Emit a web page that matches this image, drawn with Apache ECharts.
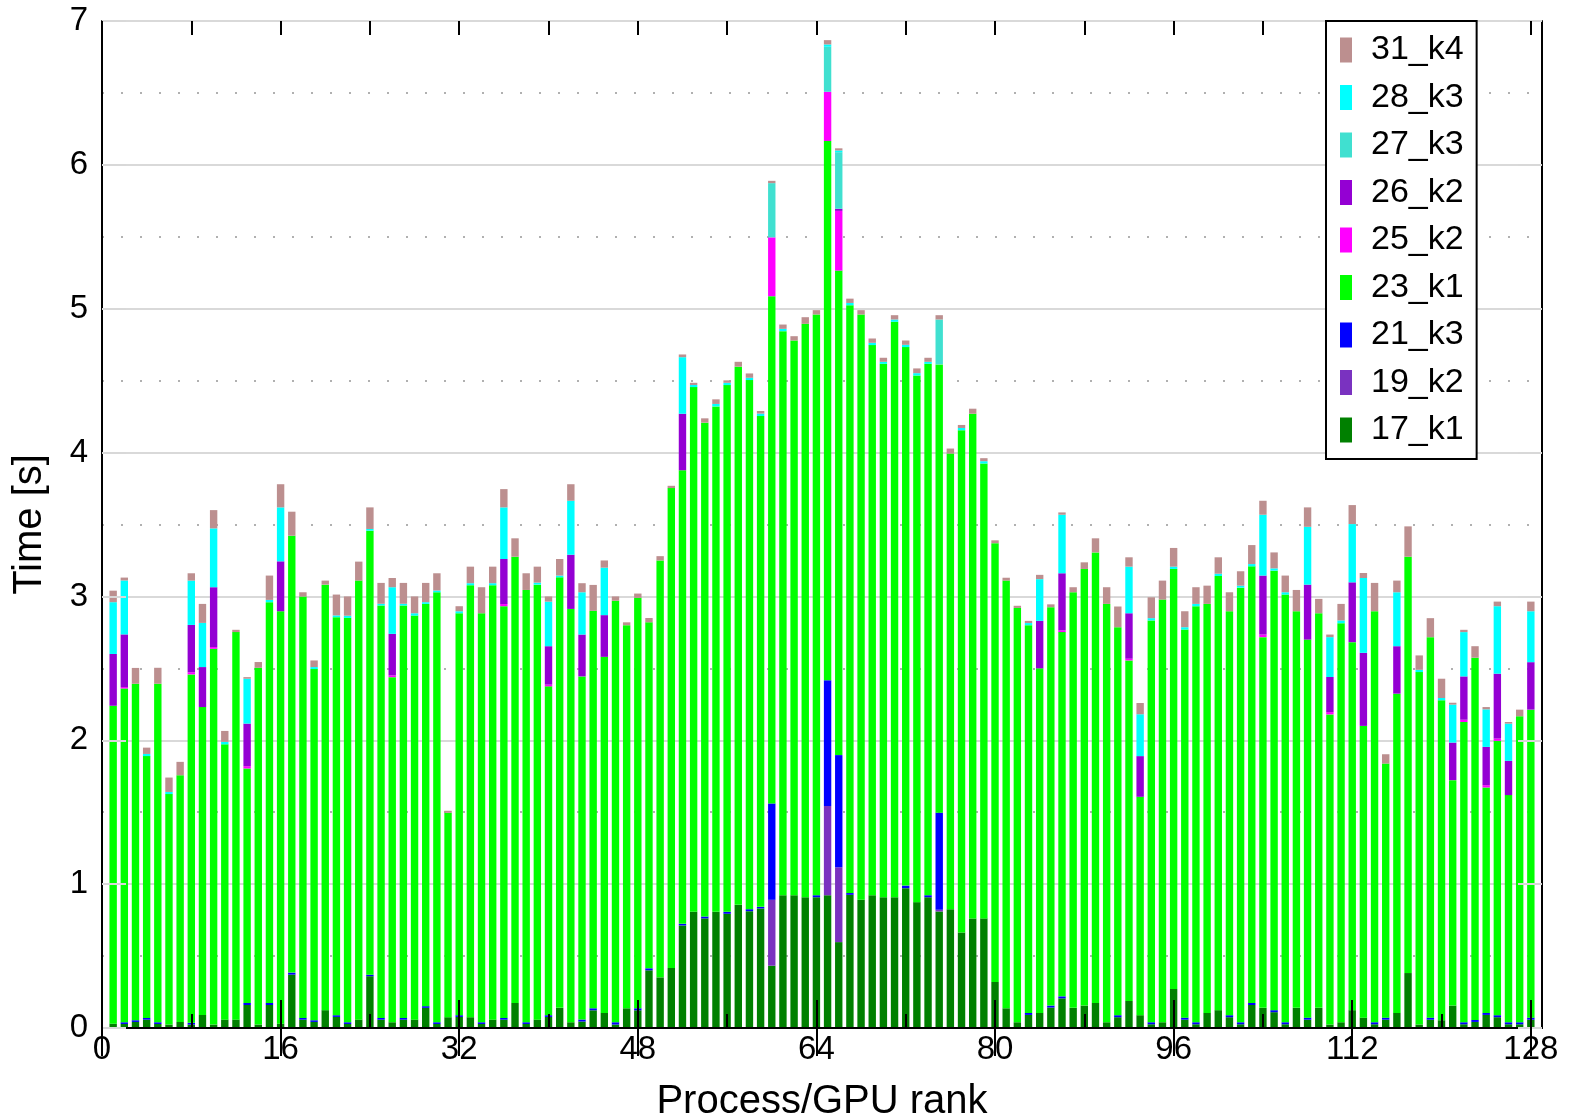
<!DOCTYPE html>
<html>
<head>
<meta charset="utf-8">
<script src="https://cdn.jsdelivr.net/npm/echarts@6/dist/echarts.min.js"></script>
<style>
  html, body { margin: 0; padding: 0; background: #ffffff; }
  #chart { width: 1571px; height: 1120px; }
</style>
</head>
<body>
<div id="chart"></div>
<script>
// Slots along the rank axis: 0 .. 129, ranks sit on slots 1 .. 128
const slots = Array.from({ length: 130 }, (_, i) => String(i));
const firstRankSlot = 1;

// Per-kernel time [s] for each rank, bottom of the stack first
const s17_k1 = [
  0.03,0.028,0.042,0.058,0.028,0.024,0.042,0.024,0.091,0.024,0.058,0.058,0.16,0.024,0.16,0.03,
  0.371,0.058,0.042,0.124,0.077,0.028,0.058,0.36,0.058,0.04,0.058,0.058,0.14,0.028,0.075,0.077,
  0.075,0.028,0.058,0.058,0.174,0.028,0.058,0.077,0.14,0.04,0.045,0.123,0.105,0.024,0.137,0.123,
  0.401,0.352,0.417,0.713,0.808,0.762,0.808,0.794,0.856,0.812,0.831,0.433,0.923,0.923,0.909,0.909,
  0.923,0.597,0.926,0.891,0.923,0.909,0.909,0.972,0.875,0.909,0.81,0.826,0.664,0.762,0.762,0.32,
  0.137,0.04,0.091,0.105,0.142,0.206,0.14,0.156,0.174,0.04,0.075,0.188,0.089,0.026,0.04,0.271,
  0.058,0.026,0.105,0.124,0.075,0.026,0.16,0.14,0.11,0.026,0.14,0.058,0.14,0.024,0.04,0.124,
  0.072,0.026,0.058,0.105,0.382,0.024,0.058,0.054,0.156,0.026,0.042,0.091,0.075,0.026,0.026,0.058
];
const s19_k2 = [
  0,0,0,0,0,0,0,0,0,0,0,0,0,0,0,0,
  0,0,0,0,0,0,0,0,0,0,0,0,0,0,0,0,
  0,0,0,0,0,0,0,0,0,0,0,0,0,0,0,0,
  0,0,0,0,0,0,0,0,0,0,0,0.458,0,0,0,0,
  0.62,0.52,0,0,0,0,0,0,0,0,0.012,0,0,0,0,0,
  0,0,0,0,0,0,0,0,0,0,0,0,0,0,0,0,
  0,0,0,0,0,0,0,0,0,0,0,0,0,0,0,0,
  0,0,0,0,0,0,0,0,0,0,0,0,0,0,0,0
];
const s21_k3 = [
  0,0.012,0.012,0.012,0.012,0,0,0.012,0,0,0,0,0.014,0,0.014,0,
  0.014,0.012,0.012,0,0.012,0.012,0,0.01,0.012,0,0.012,0,0.012,0.012,0,0.012,
  0,0.012,0,0.012,0,0.012,0,0.012,0,0,0.014,0.014,0,0.016,0,0.014,
  0.014,0,0,0.011,0,0.013,0,0.014,0,0.014,0.011,0.67,0,0,0,0.014,
  0.874,0.78,0.012,0,0,0,0,0.018,0,0.014,0.675,0,0,0,0,0,
  0,0,0.014,0,0.014,0.014,0,0,0,0,0.014,0,0,0.014,0,0,
  0.014,0.014,0,0,0.014,0.014,0.014,0,0.014,0.014,0,0.014,0,0,0,0,
  0,0.014,0.014,0,0,0,0.014,0,0,0.014,0.014,0.014,0.014,0.014,0.014,0.014
];
const s23_k1 = [
  2.21,2.32,2.339,1.82,2.353,1.602,1.715,2.422,2.14,2.612,1.914,2.694,1.63,2.48,2.786,2.867,
  3.037,2.929,2.441,2.958,2.767,2.811,3.052,3.087,2.867,2.399,2.867,2.809,2.796,2.989,1.421,2.794,
  3.003,2.843,3.02,2.862,3.102,3.005,3.024,2.286,2.993,2.873,2.385,2.763,2.475,2.93,2.663,2.853,
  2.405,2.898,3.336,3.153,3.647,3.433,3.513,3.661,3.741,3.678,3.412,3.526,3.921,3.856,3.986,4.037,
  3.749,3.368,4.086,4.069,3.824,3.708,4.0,3.743,3.661,3.694,3.116,3.167,3.491,3.508,3.162,3.05,
  2.973,2.88,2.695,2.395,2.769,2.532,2.889,3.035,3.132,2.908,2.697,2.367,1.518,2.793,2.938,2.92,
  2.698,2.892,2.843,3.018,2.808,3.021,3.035,2.577,3.055,2.973,2.757,2.628,2.743,2.156,2.774,2.558,
  2.028,2.857,1.766,2.219,2.894,2.45,2.645,2.224,1.567,2.087,2.518,1.567,1.907,1.579,2.127,2.141
];
const s25_k2 = [
  0,0.01,0,0,0,0,0,0.015,0,0.012,0,0,0.016,0,0,0,
  0,0,0,0,0,0,0,0,0,0.012,0,0,0,0,0,0,
  0,0,0,0.015,0,0,0,0.012,0,0,0,0,0,0,0,0,
  0,0,0,0,0,0,0,0,0,0,0,0.409,0,0,0,0,
  0.342,0.415,0,0,0,0,0,0,0,0,0,0,0,0,0,0,
  0,0,0,0,0,0.012,0,0,0,0,0,0.012,0,0,0,0,
  0,0,0,0,0,0,0,0.018,0,0,0,0,0,0.016,0,0,
  0,0,0,0,0,0,0,0,0,0.016,0,0.016,0.016,0,0,0
];
const s26_k2 = [
  0.36,0.366,0,0,0,0,0,0.329,0.278,0.416,0,0,0.296,0,0,0.347,
  0,0,0,0,0,0,0,0,0,0.289,0,0,0,0,0,0,
  0,0,0,0.313,0,0,0,0.267,0,0.377,0.291,0,0.29,0,0,0,
  0,0,0,0.393,0,0,0,0,0,0,0,0,0,0,0,0,
  0,0.015,0,0,0,0,0,0,0,0,0,0,0,0,0,0,
  0,0,0,0.33,0,0.397,0,0,0,0,0,0.316,0.283,0,0,0,
  0,0,0,0,0,0,0,0.41,0,0,0,0.382,0,0.244,0,0.416,
  0.508,0,0,0.33,0,0,0,0,0.261,0.301,0,0.266,0.451,0.238,0,0.33
];
const s27_k3 = [
  0,0,0,0,0,0,0,0,0,0,0,0,0,0,0,0,
  0,0,0,0,0,0,0,0,0,0,0,0,0,0,0,0,
  0,0,0,0,0,0,0,0,0,0,0,0,0,0,0,0,
  0,0,0,0,0,0,0,0,0,0,0,0.377,0,0,0,0,
  0.313,0.393,0,0,0,0,0,0,0,0,0.312,0,0,0,0,0,
  0,0,0,0,0,0,0,0,0,0,0,0,0,0,0,0,
  0,0,0,0,0,0,0,0,0,0,0,0,0,0,0,0,
  0,0,0,0,0,0,0,0,0,0,0,0,0,0,0,0
];
const s28_k3 = [
  0.36,0.375,0,0.015,0,0.015,0,0.308,0.307,0.409,0.017,0,0.312,0,0.016,0.375,
  0,0,0.014,0,0.012,0.015,0,0.012,0.012,0.324,0.012,0.016,0.012,0.012,0,0.014,
  0.014,0,0.014,0.359,0,0,0.014,0.31,0.012,0.375,0.294,0,0.33,0,0,0,
  0,0,0,0.393,0.015,0,0.017,0.016,0,0.016,0.017,0,0.016,0,0,0,
  0.016,0.012,0.016,0,0.016,0.014,0.016,0.016,0.016,0.014,0,0,0.016,0,0.016,0,
  0,0,0.015,0.29,0,0.407,0,0,0,0,0,0.324,0.291,0.016,0,0.016,
  0.016,0.016,0,0.016,0,0.014,0.016,0.423,0.016,0.016,0,0.402,0,0.277,0.019,0.405,
  0.52,0,0,0.375,0,0.016,0,0.016,0.264,0.308,0,0.261,0.469,0.259,0,0.354
];
const s31_k4 = [
  0.08,0.02,0.11,0.044,0.111,0.1,0.093,0.051,0.132,0.127,0.076,0.016,0.011,0.04,0.169,0.161,
  0.167,0.03,0.046,0.028,0.145,0.134,0.132,0.15,0.145,0.064,0.145,0.117,0.134,0.12,0.014,0.035,
  0.115,0.181,0.115,0.127,0.128,0.116,0.111,0.036,0.115,0.115,0.063,0.18,0.05,0.03,0.02,0.03,
  0.03,0.03,0.016,0.019,0.015,0.03,0.032,0.017,0.034,0.03,0.018,0.016,0.03,0.03,0.046,0.03,
  0.03,0.015,0.03,0.03,0.03,0.028,0.03,0.03,0.033,0.028,0.03,0.035,0.021,0.035,0.021,0.02,
  0.02,0.015,0.015,0.03,0.02,0.016,0.035,0.046,0.098,0.116,0.144,0.065,0.078,0.145,0.132,0.13,
  0.111,0.116,0.127,0.114,0.132,0.1,0.132,0.097,0.111,0.116,0.148,0.135,0.1,0.018,0.115,0.132,
  0.035,0.197,0.065,0.081,0.211,0.1,0.132,0.134,0.013,0.016,0.08,0.016,0.032,0.011,0.046,0.067
];

// Axis ticks
const xTickStep = 16;      // labelled ticks: 0, 16, ..., 128
const xMinorStep = 8;      // short ticks between them
const xLastLabel = 128;
const yTicks = [0, 1, 2, 3, 4, 5, 6, 7];

// Stack order (bottom to top) and colours
const kernels = [
  { name: '17_k1', values: s17_k1, color: '#008000' },
  { name: '19_k2', values: s19_k2, color: '#7a32c0' },
  { name: '21_k3', values: s21_k3, color: '#0000ff' },
  { name: '23_k1', values: s23_k1, color: '#00ff00' },
  { name: '25_k2', values: s25_k2, color: '#ff00ff' },
  { name: '26_k2', values: s26_k2, color: '#9400d3' },
  { name: '27_k3', values: s27_k3, color: '#40e0d0' },
  { name: '28_k3', values: s28_k3, color: '#00ffff' },
  { name: '31_k4', values: s31_k4, color: '#bc8f8f' }
];

const FONT = 'Liberation Sans, Arial, Helvetica, sans-serif';
const TICK_FONT = 33;
const TITLE_FONT = 40;
const yMin = yTicks[0], yMax = yTicks[yTicks.length - 1];

// place a rank's value on its slot along the axis
const onSlots = values => slots.map((s, i) => {
  const r = i - firstRankSlot;
  return (r >= 0 && r < values.length) ? values[r] : '-';
});

const chart = echarts.init(document.getElementById('chart'), null, { renderer: 'canvas' });

// frame axes along x: long ticks every 16, or short ticks every 8
const rankAxis = (pos, step, len, withLabels, withLine) => ({
  type: 'category', position: pos, data: slots, boundaryGap: false,
  z: 10,
  axisLine: { show: withLine, lineStyle: { color: '#000', width: 2 } },
  axisTick: {
    show: true, inside: true, length: len,
    interval: i => i % step === 0,
    lineStyle: { color: '#000', width: 2 }
  },
  splitLine: { show: false },
  axisLabel: withLabels ? {
    show: true, fontSize: TICK_FONT, color: '#000', fontFamily: FONT, margin: 5,
    interval: i => i % step === 0 && i <= xLastLabel
  } : { show: false }
});

const frameY = (pos, labels) => ({
  type: 'value', position: pos, min: yMin, max: yMax, interval: 1,
  z: 10,
  axisLine: { show: true, lineStyle: { color: '#000', width: 2 } },
  axisTick: { show: true, inside: true, length: 24, lineStyle: { color: '#d8d8d8', width: 2 } },
  splitLine: { show: false },
  axisLabel: labels ? { show: true, fontSize: TICK_FONT, color: '#000', fontFamily: FONT, margin: 14 } : { show: false }
});

const option = {
  backgroundColor: '#ffffff',
  animation: false,
  grid: { left: 102, right: 29, top: 21, bottom: 92, outerBoundsMode: 'none', containLabel: false },
  legend: {
    orient: 'vertical',
    left: 1326, top: 21,
    z: 20,
    data: kernels.map(k => k.name).reverse(),
    icon: 'rect',
    itemWidth: 12, itemHeight: 25, itemGap: 13.5,
    padding: [12, 13, 12, 14],
    backgroundColor: '#ffffff',
    borderColor: '#000', borderWidth: 2, borderRadius: 0,
    textStyle: { fontSize: 34, color: '#000', fontFamily: FONT, padding: [0, 0, 0, 14] },
    selectedMode: false
  },
  xAxis: [
    Object.assign(rankAxis('bottom', xTickStep, 28, true, true), {
      name: 'Process/GPU rank', nameLocation: 'middle', nameGap: 54,
      nameTextStyle: { fontSize: TITLE_FONT, color: '#000', fontFamily: FONT }
    }),
    rankAxis('top', xTickStep, 28, false, true),
    rankAxis('bottom', xMinorStep, 14, false, false),
    rankAxis('top', xMinorStep, 14, false, false)
  ],
  yAxis: [
    Object.assign(frameY('left', true), {
      name: 'Time [s]', nameLocation: 'middle', nameGap: 52, nameRotate: 90,
      nameTextStyle: { fontSize: TITLE_FONT, color: '#000', fontFamily: FONT }
    }),
    frameY('right', false),
    {
      // background grid: solid at whole seconds, dotted at half seconds
      type: 'value', position: 'left', min: yMin, max: yMax, interval: 1, z: 0,
      axisLine: { show: false }, axisTick: { show: false }, axisLabel: { show: false },
      splitLine: { show: true, lineStyle: { color: '#d9d9d9', width: 2 } },
      minorTick: { show: false, splitNumber: 2 },
      minorSplitLine: { show: true, lineStyle: { color: '#b0b0b0', width: 2, type: [2, 17] } }
    }
  ],
  series: kernels.map(k => ({
    name: k.name,
    type: 'bar',
    stack: 'time',
    xAxisIndex: 0,
    yAxisIndex: 0,
    barWidth: 7.4,
    itemStyle: { color: k.color },
    emphasis: { disabled: true },
    data: onSlots(k.values)
  }))
};

chart.setOption(option);
</script>
</body>
</html>
